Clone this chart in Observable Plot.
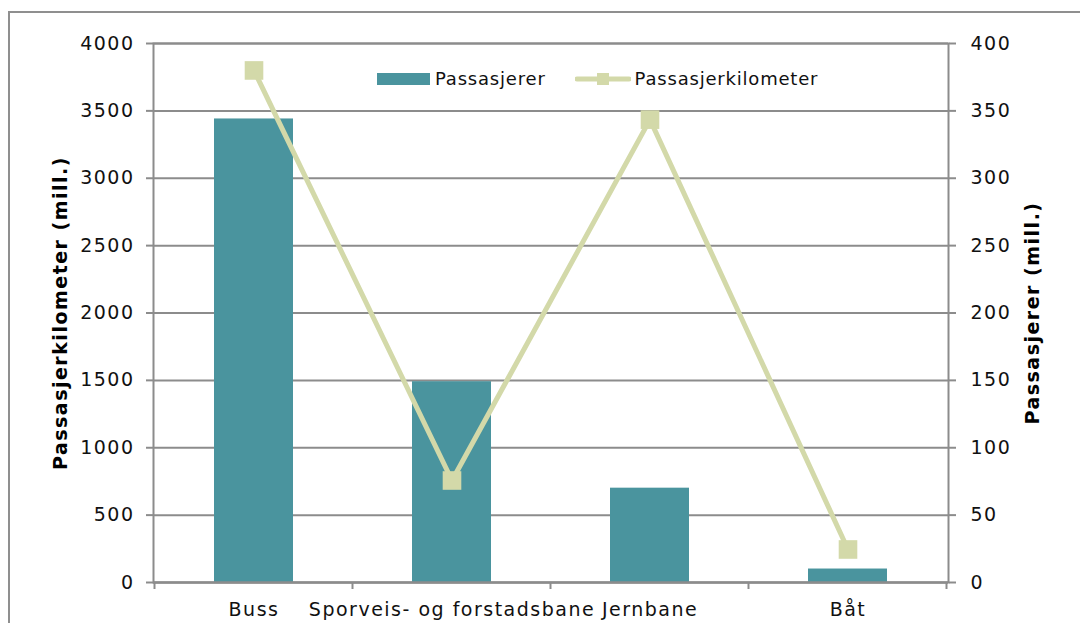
<!DOCTYPE html>
<html>
<head>
<meta charset="utf-8">
<script src="https://cdn.jsdelivr.net/npm/d3@7"></script>
<script src="https://cdn.jsdelivr.net/npm/@observablehq/plot@0.6"></script>
<style>
  html, body { margin: 0; padding: 0; background: #fff; overflow: hidden; }
  #wrap { position: relative; width: 1080px; height: 623px; }
  #border { position: absolute; left: 8px; top: 11px; width: 1200px; height: 800px;
            border: 2px solid #8f8f8f; box-sizing: border-box; pointer-events: none; }
  #chart { position: absolute; left: 0; top: 0; }
  .legend { position: absolute; top: 68px; left: 377px; font-family: "DejaVu Sans", Verdana, sans-serif;
            font-size: 18px; letter-spacing: 0.8px; color: #111; display: flex; align-items: center; }
</style>
</head>
<body>
<div id="wrap">
  <div id="chart"></div>
  <div id="border"></div>
  <div class="legend" id="legend"></div>
</div>
<script>
// Data
const categories = ["Buss", "Sporveis- og forstadsbane", "Jernbane", "Båt"];
const passasjerer = [3440, 1490, 700, 100];          // bars, left axis units
const passasjerkilometer = [380, 75.7, 343.5, 24.5];  // line, right axis units
const leftTicks = [0, 500, 1000, 1500, 2000, 2500, 3000, 3500, 4000];
const rightTicks = [0, 50, 100, 150, 200, 250, 300, 350, 400];
const seriesNames = ["Passasjerer", "Passasjerkilometer"];
const leftTitle = "Passasjerkilometer (mill.)";
const rightTitle = "Passasjerer (mill.)";

const barColor = "#4a949e";
const lineColor = "#d3d9a9";
const gridColor = "#8c8c8c";
const ratio = 10; // right axis -> left axis

const bars = categories.map((c, i) => ({cat: c, v: passasjerer[i]}));
const pts = categories.map((c, i) => ({cat: c, v: passasjerkilometer[i] * ratio}));

const font = "DejaVu Sans, Verdana, sans-serif";

// x ticks at band boundaries, computed from the band scale
function boundaryTicks(index, scales, values, dims) {
  const x = scales.x, y = scales.y;
  const step = x.step(), bw = x.bandwidth();
  const g = d3.create("svg:g").attr("stroke", gridColor).attr("stroke-width", 2);
  const y0 = y(0);
  const xs = categories.map(c => x(c) + bw / 2 - step / 2);
  xs.push(x(categories[categories.length - 1]) + bw / 2 + step / 2);
  for (const px of xs) {
    g.append("line").attr("x1", px).attr("x2", px).attr("y1", y0).attr("y2", y0 + 7);
  }
  return g.node();
}

const chart = Plot.plot({
  width: 1080,
  height: 623,
  marginLeft: 153,
  marginRight: 132,
  marginTop: 43,
  marginBottom: 41,
  style: { fontFamily: font, fontSize: "19px", letterSpacing: "1.5px", color: "#111", background: "transparent" },
  x: { type: "band", domain: categories, paddingInner: 0.6, paddingOuter: 0.3 },
  y: { domain: [0, 4000] },
  marks: [
    Plot.gridY(leftTicks, { stroke: gridColor, strokeOpacity: 1, strokeWidth: 2 }),
    Plot.barY(bars, { x: "cat", y: "v", fill: barColor }),
    Plot.ruleY([0], { stroke: gridColor, strokeWidth: 2 }),
    Plot.frame({ stroke: gridColor, strokeWidth: 2 }),
    Plot.axisY(leftTicks, { anchor: "left", tickSize: 7, tickPadding: 12, stroke: gridColor, strokeWidth: 2, label: null, tickFormat: d => String(d), fontSize: 19 }),
    Plot.axisY(rightTicks.map(d => d * ratio), { anchor: "right", tickSize: 7, tickPadding: 15, stroke: gridColor, strokeWidth: 2, label: null, tickFormat: d => String(d / ratio), fontSize: 19 }),
    Plot.axisX({ tickSize: 0, tickPadding: 20, label: null, fontSize: 19 }),
    boundaryTicks,
    Plot.line(pts, { x: "cat", y: "v", stroke: lineColor, strokeWidth: 5 }),
    Plot.dot(pts, { x: "cat", y: "v", symbol: "square", r: 10.5, fill: lineColor, stroke: "none" }),
    Plot.text([leftTitle], { frameAnchor: "left", textAnchor: "middle", dx: -93, rotate: -90, fontWeight: "bold", fontSize: 19, fill: "#000" }),
    Plot.text([rightTitle], { frameAnchor: "right", textAnchor: "middle", dx: 84, rotate: -90, fontWeight: "bold", fontSize: 19, fill: "#000" })
  ]
});
document.getElementById("chart").appendChild(chart);

// Legend
const legend = document.getElementById("legend");
legend.innerHTML = `
  <svg width="53" height="12" style="margin-right:5px"><rect x="0" y="0" width="53" height="12" fill="${barColor}"></rect></svg>
  <span>${seriesNames[0]}</span>
  <svg width="56" height="16" style="margin-left:29px;margin-right:4px">
    <line x1="2" y1="8" x2="54" y2="8" stroke="${lineColor}" stroke-width="5" stroke-linecap="round"></line>
    <rect x="22" y="2" width="12" height="12" fill="${lineColor}"></rect>
  </svg>
  <span>${seriesNames[1]}</span>`;
</script>
</body>
</html>
